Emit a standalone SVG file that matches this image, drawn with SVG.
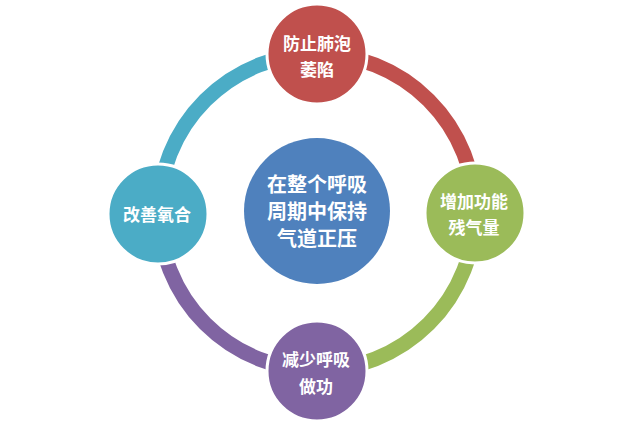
<svg xmlns="http://www.w3.org/2000/svg" width="633" height="424" viewBox="0 0 633 424">
<style>
.arc{fill:none;stroke-width:15}
.node{stroke:#ffffff;stroke-width:3}
.t{font-family:"Noto Sans CJK SC","Noto Sans",sans-serif;font-weight:bold;fill:#ffffff;text-anchor:middle;dominant-baseline:central}
.s{font-size:17px}
.c{font-size:20px}
</style>
<rect width="633" height="424" fill="#ffffff"/>
<g id="connectors">
<path class="arc" stroke="#4BACC6" d="M159,212 A158,158 0 0 1 317,54"/>
<path class="arc" stroke="#C0504D" d="M317,54 A158,158 0 0 1 475,212"/>
<path class="arc" stroke="#9BBB59" d="M475,212 A158,158 0 0 1 317,370"/>
<path class="arc" stroke="#8064A2" d="M317,370 A158,158 0 0 1 159,212"/>
</g>
<g id="center">
<circle cx="317" cy="211" r="73" fill="#4F81BD"/>
<text class="t c" x="317" y="183">在整个呼吸</text>
<text class="t c" x="317" y="210">周期中保持</text>
<text class="t c" x="317" y="237">气道正压</text>
</g>
<g id="top">
<circle class="node" cx="317" cy="54" r="50" fill="#C0504D"/>
<text class="t s" x="317" y="42">防止肺泡</text>
<text class="t s" x="317" y="68">萎陷</text>
</g>
<g id="right">
<circle class="node" cx="475" cy="213" r="50" fill="#9BBB59"/>
<text class="t s" x="474" y="200">增加功能</text>
<text class="t s" x="474" y="226">残气量</text>
</g>
<g id="bottom">
<circle class="node" cx="317" cy="371" r="50" fill="#8064A2"/>
<text class="t s" x="316" y="358">减少呼吸</text>
<text class="t s" x="316" y="385">做功</text>
</g>
<g id="left">
<circle class="node" cx="158" cy="214" r="50" fill="#4BACC6"/>
<text class="t s" x="157" y="213">改善氧合</text>
</g>
</svg>
